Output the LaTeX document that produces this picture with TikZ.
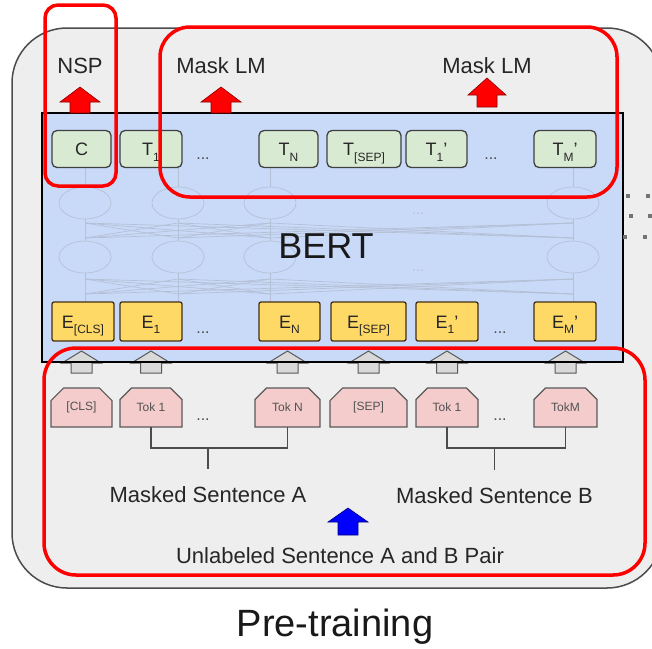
\documentclass[tikz,border=0pt]{standalone}
\usepackage{fontspec}
\setmainfont{Liberation Sans}
\usetikzlibrary{calc,shapes.misc}

\definecolor{panelgray}{HTML}{EEEEEE}
\definecolor{bertblue}{HTML}{C9DAF8}
\definecolor{outgreen}{HTML}{D9EAD3}
\definecolor{embyellow}{HTML}{FFD966}
\definecolor{tokpink}{HTML}{F4CCCC}
\definecolor{arrowgray}{HTML}{D9D9D9}
\definecolor{netline}{RGB}{180,192,214}
\definecolor{hlred}{HTML}{FF0000}
\definecolor{textdark}{HTML}{262626}

% lowered index used in token labels
\newcommand\lowidx[1]{\raisebox{-0.6ex}{\fontsize{12}{12}\selectfont #1}}
\newcommand\fs[1]{\fontsize{#1}{#1}\selectfont}

% block arrow pointing up: style, base point, length, shaft half width, head half width, head length
\newcommand\blockarrow[6]{%
  \draw[#1] #2 ++(-#4,0) -- ++(0,{-(#3-#6)}) -- ++({-(#5-#4)},0) -- ++(#5,{-#6})
    -- ++(#5,#6) -- ++({-(#5-#4)},0) -- ++(0,{#3-#6}) -- cycle;}

\tikzset{
  outnode/.style={draw=black!75, line width=1.3pt, fill=outgreen, rounded corners=5pt,
    minimum height=37pt, inner sep=0pt, outer sep=0pt, text height=13pt, text depth=0pt,
    font=\fs{18}, text=textdark},
  embnode/.style={draw=brown!35!black, line width=1.3pt, fill=embyellow, rounded corners=2pt,
    minimum height=39pt, inner sep=0pt, outer sep=0pt, text height=13pt, text depth=0pt,
    font=\fs{18}, text=textdark},
  toknode/.style={chamfered rectangle, chamfered rectangle corners={north west,north east},
    chamfered rectangle xsep=7pt, chamfered rectangle ysep=7pt,
    draw=black!65, line width=1.2pt, fill=tokpink, minimum height=39pt,
    inner sep=0pt, outer sep=0pt, font=\fs{12}, text=black!68},
  label/.style={anchor=base, font=\fs{22}, text=textdark, inner sep=0pt},
  dotsl/.style={anchor=base, font=\fs{16}, text=black!70, inner sep=0pt},
  net/.style={draw=netline, line width=0.7pt},
  grayarrow/.style={fill=arrowgray, draw=black!65, line width=1pt},
  redarrow/.style={fill=hlred, draw=red!55!black, line width=0.6pt},
  bluearrow/.style={fill=blue, draw=blue!50!black, line width=0.6pt},
  bracket/.style={draw=black!70, line width=1.5pt},
  hlframe/.style={draw=hlred, line width=3.5pt},
}

\begin{document}
\begin{tikzpicture}[x=1pt, y=-1pt]
\clip (0,0) rectangle (652,648);
\fill[white] (0,0) rectangle (652,648);

% pre-training panel
\draw[fill=panelgray, draw=black!70, line width=1.5pt, rounded corners=55pt]
  (12,28) rectangle (662,588);

% encoder block
\node[fill=bertblue, draw=none, minimum width=581pt, minimum height=249pt,
  inner sep=0pt, outer sep=0pt] (bert) at (332.5,237.5) {};

% faint transformer layers
\foreach \x in {85,178,270,573} {
  \draw[net] (\x,203) ellipse (26pt and 16pt);
  \draw[net] (\x,257) ellipse (26pt and 16pt);
  \draw[net] (\x,168) -- (\x,187);
  \draw[net] (\x,219) -- (\x,241);
  \draw[net] (\x,273) -- (\x,302);
}
\foreach \a in {85,178,270,573} {
  \foreach \b in {85,178,270,573} {
    \draw[net] (\a,223) -- (\b,238);
    \draw[net] (\a,279) -- (\b,294);
  }
}
\node[anchor=base, font=\fs{14}, text=netline] at (418,214) {...};
\node[anchor=base, font=\fs{14}, text=netline] at (418,271) {...};

\node[anchor=base, font=\fs{36}, text=black!90, inner sep=0pt] (bertlabel) at (326,258) {BERT};

% output tokens
\node[outnode, minimum width=59pt] (oC)  at (81.5,149) {C};
\node[outnode, minimum width=62pt] (oT1) at (151,149) {T\lowidx{1}};
\node[outnode, minimum width=59pt] (oTN) at (288.5,149) {T\lowidx{N}};
\node[outnode, minimum width=74pt] (oTS) at (364,149) {T\lowidx{[SEP]}};
\node[outnode, minimum width=61pt] (oTB) at (436.5,149) {T\lowidx{1}'};
\node[outnode, minimum width=62pt] (oTM) at (565,149) {T\lowidx{M}'};
\node[dotsl] at (203,159) {...};
\node[dotsl] at (491,159) {...};

% input embeddings
\node[embnode, minimum width=62pt] (eC)  at (83,321.5) {E\lowidx{[CLS]}};
\node[embnode, minimum width=62pt] (eA1) at (151,321.5) {E\lowidx{1}};
\node[embnode, minimum width=61pt] (eAN) at (289.5,321.5) {E\lowidx{N}};
\node[embnode, minimum width=75pt] (eS)  at (368.5,321.5) {E\lowidx{[SEP]}};
\node[embnode, minimum width=62pt] (eB1) at (447,321.5) {E\lowidx{1}'};
\node[embnode, minimum width=62pt] (eBM) at (565,321.5) {E\lowidx{M}'};
\node[dotsl] at (203,333) {...};
\node[dotsl] at (500,333) {...};

% input tokens
\node[toknode, minimum width=61pt] (tC)  at (81.5,407.5) {[CLS]};
\node[toknode, minimum width=62pt] (tA1) at (151,407.5) {Tok 1};
\node[toknode, minimum width=65pt] (tAN) at (287.5,407.5) {Tok N};
\node[toknode, minimum width=77pt] (tS)  at (368.5,407.5) {[SEP]};
\node[toknode, minimum width=62pt] (tB1) at (447,407.5) {Tok 1};
\node[toknode, minimum width=63pt] (tBM) at (565.5,407.5) {TokM};
\node[dotsl] at (203,420) {...};
\node[dotsl] at (500,420) {...};

% token -> embedding arrows
\foreach \t in {tC,tA1,tAN,tS,tB1,tBM} {
  \blockarrow{grayarrow}{($(\t.north)+(0,-15)$)}{22}{10.5}{19.5}{12}
}

% encoder border on top of the arrows
\draw[line width=2.5pt, black] (bert.south west) rectangle (bert.north east);

% task heads
\node[label] (nsp)  at (80,73) {NSP};
\node[label] (mlmA) at (221,73) {Mask LM};
\node[label] (mlmB) at (487,73) {Mask LM};
\blockarrow{redarrow}{(nsp |- bert.north)}{26}{10}{20}{15}
\blockarrow{redarrow}{(mlmA |- bert.north)}{26}{10}{20}{15}
\blockarrow{redarrow}{($(mlmB |- bert.north)+(0,-6)$)}{29}{10}{19}{17}

% sentence brackets
\draw[bracket] (tA1.south) -- ++(0,21) -| (tAN.south);
\draw[bracket] (tB1.south) -- ++(0,21) -| (tBM.south);
\node[label] (sentA) at (208,502) {Masked Sentence A};
\node[label] (sentB) at (494.5,503) {Masked Sentence B};
\draw[bracket] (sentA |- tA1.south) ++(0,21) -- ++(0,21);
\draw[bracket] (sentB |- tB1.south) ++(0,21) -- ++(0,22);

% unlabeled pair input
\node[label] (pair) at (340,563) {Unlabeled Sentence A and B Pair};
\coordinate (pairarrow) at (348,535);
\blockarrow{bluearrow}{(pairarrow)}{27}{10}{20}{14}

% caption
\node[anchor=base, font=\fs{38}, text=black!90, inner sep=0pt] (caption) at (335,636) {Pre-training};

% highlight frames
\draw[hlframe, rounded corners=13pt] (45,5) rectangle (116,186);
\draw[hlframe, rounded corners=30pt] (160,27) rectangle (617,197);
\draw[hlframe, rounded corners=32pt] (44,348) rectangle (645,575);

% edge of the neighbouring panel
\foreach \p in {(628,196),(648,196),(631,216),(650,216),(625,237),(645,237)}
  \fill[black!55] \p +(-2,-2) rectangle +(2,2);
\end{tikzpicture}
\end{document}
